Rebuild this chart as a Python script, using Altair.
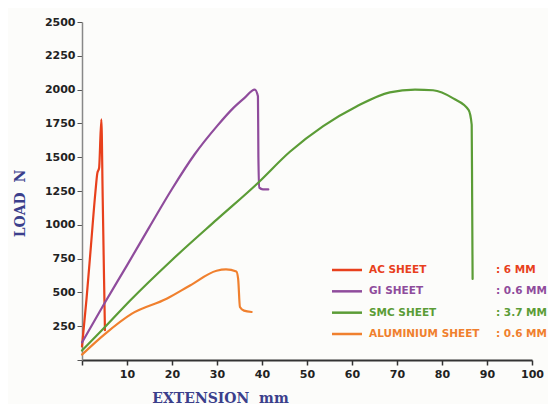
import altair as alt
import pandas as pd

# ---- data ----
series_names = ["AC SHEET", "GI SHEET", "SMC SHEET", "ALUMINIUM SHEET"]
series_specs = [": 6 MM", ": 0.6 MM", ": 3.7 MM", ": 0.6 MM"]
series_colors = ["#e8401c", "#8f4c9c", "#5b9c36", "#f0802e"]

ac_x = [0, 1, 2, 3, 3.4, 3.8, 4.3, 4.6, 4.9, 5.1]
ac_y = [100, 450, 850, 1250, 1380, 1420, 1780, 1200, 600, 220]

gi_x = [0, 5, 10, 15, 20, 25, 30, 33.6, 36, 38.4, 39.1, 39.2, 39.4, 40.2, 41.4]
gi_y = [130, 420, 700, 985, 1265, 1520, 1730, 1863, 1935, 2000, 1950, 1500, 1275, 1262, 1262]

smc_x = [0, 5, 10.7, 20, 30, 38.8, 46.2, 53.6, 61, 68.4, 74, 78, 82.5, 85.9, 86.6, 86.7, 86.8]
smc_y = [70, 240, 440, 740, 1040, 1300, 1540, 1730, 1875, 1980, 2000, 1995, 1935, 1850, 1740, 1200, 600]

al_x = [0, 5, 11.1, 18.8, 24, 29.9, 32, 34.3, 34.7, 35.1, 36, 37.7]
al_y = [40, 190, 343, 453, 551, 660, 670, 655, 600, 392, 365, 355]

x_ticks = [0, 10, 20, 30, 40, 50, 60, 70, 80, 90, 100]
y_ticks = [0, 250, 500, 750, 1000, 1250, 1500, 1750, 2000, 2250, 2500]

# ---- tables ----
rows = []
for name, xs, ys in zip(series_names, [ac_x, gi_x, smc_x, al_x], [ac_y, gi_y, smc_y, al_y]):
    for i, (xv, yv) in enumerate(zip(xs, ys)):
        rows.append({"series": name, "ext": xv, "load": yv, "i": i})
df = pd.DataFrame(rows)

legend_df = pd.DataFrame({
    "series": series_names,
    "spec": series_specs,
    "row": list(range(len(series_names))),
})

color_scale = alt.Scale(domain=series_names, range=series_colors)
title_color = "#3b3f8c"

lines = alt.Chart(df).mark_line(strokeWidth=2.2, strokeCap="round", strokeJoin="round",
                                interpolate="monotone").encode(
    x=alt.X("ext:Q", scale=alt.Scale(domain=[0, 100], nice=False),
            axis=alt.Axis(values=x_ticks, labelExpr="datum.value == 0 ? '' : datum.label",
                          labelFlush=False,
                          title="EXTENSION\u00a0\u00a0mm", titleX=138, titleY=31,
                          titleAlign="center", titleAnchor="start", titleBaseline="top",
                          domainColor="#333", domainWidth=2, tickColor="#333", tickWidth=1.5,
                          tickSize=5, labelPadding=3)),
    y=alt.Y("load:Q", scale=alt.Scale(domain=[0, 2500], nice=False),
            axis=alt.Axis(values=y_ticks, format="d",
                          labelExpr="datum.value == 0 ? '' : datum.label",
                          labelFlush=False,
                          title="LOAD\u00a0\u00a0N", titleX=-62, titleY=181,
                          titleAngle=-90, titleAlign="center", titleAnchor="start",
                          titleBaseline="middle",
                          domainColor="#888", domainWidth=1.5, tickColor="#555",
                          tickSize=5, labelPadding=2)),
    color=alt.Color("series:N", scale=color_scale, legend=None),
    detail="series:N",
    order="i:Q",
)

leg_y = alt.Y("row:Q", scale=alt.Scale(domain=[0, 3], range=[248, 312]), axis=None)
leg_color = alt.Color("series:N", scale=color_scale, legend=None)

leg_rule = alt.Chart(legend_df).mark_rule(strokeWidth=2.5).encode(
    x=alt.value(250), x2=alt.value(280), y=leg_y, color=leg_color)
leg_name = alt.Chart(legend_df).mark_text(
    align="left", baseline="middle", font="DejaVu Sans", fontWeight="bold", fontSize=10.5
).encode(x=alt.value(287), y=leg_y, text="series:N", color=leg_color)
leg_spec = alt.Chart(legend_df).mark_text(
    align="left", baseline="middle", font="DejaVu Sans", fontWeight="bold", fontSize=10.5
).encode(x=alt.value(414), y=leg_y, text="spec:N", color=leg_color)

legend = alt.layer(leg_rule, leg_name, leg_spec)

chart = alt.layer(lines, legend).resolve_scale(y="independent", x="independent").properties(
    width=450, height=338,
    autosize=alt.AutoSizeParams(type="none"),
    padding={"left": 74, "top": 14, "right": 16, "bottom": 44},
    background="#fcfcfa",
).configure_view(stroke=None).configure_axis(
    grid=False,
    labelFont="DejaVu Sans", labelFontWeight="bold", labelFontSize=11, labelColor="#222",
    titleFont="DejaVu Serif", titleFontWeight="bold", titleFontSize=14, titleColor=title_color,
)

chart.save("out.html", embed_options={"renderer": "svg", "actions": False})
